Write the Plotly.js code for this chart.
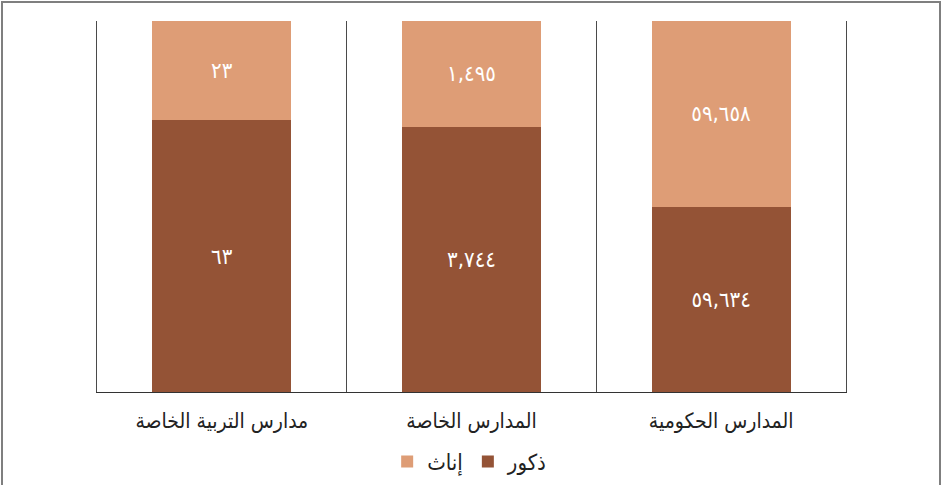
<!DOCTYPE html>
<html>
<head>
<meta charset="utf-8">
<script src="https://cdn.plot.ly/plotly-3.0.1.min.js"></script>
<style>
  html, body { margin: 0; padding: 0; background: #ffffff; }
  #wrap { position: relative; width: 945px; height: 485px; }
  #chart { width: 945px; height: 485px; }
  #frame { position: absolute; left: 1px; top: 1px; width: 940px; height: 500px;
           border: 2px solid #7f7f7f; pointer-events: none; box-sizing: border-box; }
</style>
</head>
<body>
<div id="wrap">
  <div id="chart"></div>
  <div id="frame"></div>
</div>
<script>
// Categories (as listed in source order; axis drawn right-to-left)
const categories = ["المدارس الحكومية", "المدارس الخاصة", "مدارس التربية الخاصة"];
// Series values
const males = [59634, 3744, 63];
const females = [59658, 1495, 23];
// Value labels as printed
const maleLabels = ["٥٩,٦٣٤", "٣,٧٤٤", "٦٣"];
const femaleLabels = ["٥٩,٦٥٨", "١,٤٩٥", "٢٣"];
// Series names
const maleName = "ذكور";
const femaleName = "إناث";

const fontFamily = "'DejaVu Sans Condensed', 'Noto Sans', 'DejaVu Sans', sans-serif";

const traces = [
  {
    type: "bar",
    name: maleName,
    x: categories,
    y: males,
    text: maleLabels,
    texttemplate: "%{text}",
    textposition: "inside",
    insidetextanchor: "middle",
    constraintext: "none",
    textangle: 0,
    textfont: { color: "#ffffff", size: 22, family: fontFamily },
    marker: { color: "#945336" },
    hoverinfo: "skip"
  },
  {
    type: "bar",
    name: femaleName,
    x: categories,
    y: females,
    text: femaleLabels,
    texttemplate: "%{text}",
    textposition: "inside",
    insidetextanchor: "middle",
    constraintext: "none",
    textangle: 0,
    textfont: { color: "#ffffff", size: 22, family: fontFamily },
    marker: { color: "#DE9D76" },
    hoverinfo: "skip"
  }
];

const layout = {
  width: 945,
  height: 485,
  margin: { l: 97, r: 99, t: 21, b: 93 },
  paper_bgcolor: "#ffffff",
  plot_bgcolor: "#ffffff",
  barmode: "stack",
  barnorm: "percent",
  bargap: 0.444,
  font: { family: fontFamily, color: "#222222", size: 18 },
  xaxis: {
    type: "category",
    autorange: "reversed",
    automargin: false,
    tickangle: 0,
    tickson: "boundaries",
    showgrid: true,
    gridcolor: "#4a4a4a",
    gridwidth: 1,
    showline: true,
    linecolor: "#333333",
    linewidth: 1,
    ticks: "",
    ticklabelstandoff: 10,
    tickfont: { size: 21, color: "#222222", family: fontFamily },
    zeroline: false
  },
  yaxis: {
    range: [0, 100],
    automargin: false,
    showgrid: false,
    zeroline: false,
    showticklabels: false,
    ticks: "",
    showline: true,
    mirror: true,
    linecolor: "#4a4a4a",
    linewidth: 1
  },
  showlegend: true,
  legend: {
    orientation: "h",
    traceorder: "reversed",
    xref: "container",
    yref: "container",
    x: 0.497,
    xanchor: "center",
    y: 0.048,
    yanchor: "middle",
    font: { size: 22, color: "#222222", family: fontFamily },
    itemwidth: 30
  }
};

Plotly.newPlot("chart", traces, layout, { displayModeBar: false, staticPlot: true });
</script>
</body>
</html>
